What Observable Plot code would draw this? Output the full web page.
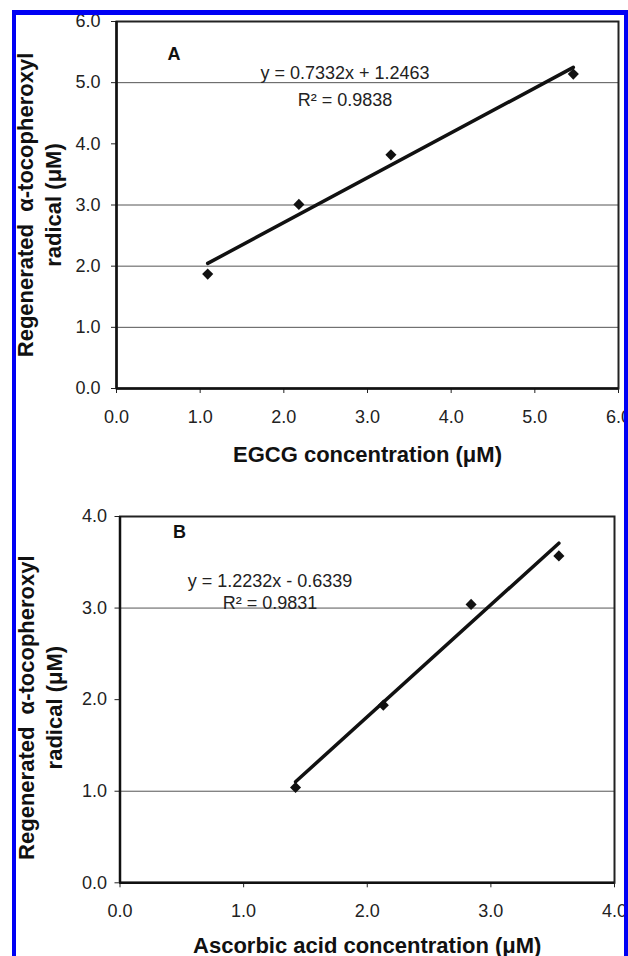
<!DOCTYPE html>
<html>
<head>
<meta charset="utf-8">
<script src="https://cdn.jsdelivr.net/npm/d3@7"></script>
<script src="https://cdn.jsdelivr.net/npm/@observablehq/plot@0.6"></script>
<style>
  html, body { margin: 0; padding: 0; background: #fff; }
  #wrap { position: relative; width: 628px; height: 956px; overflow: hidden; background: #fff; font-family: "Liberation Sans", Arial, sans-serif; }
  #wrap svg { position: absolute; left: 0; }
  #border { position: absolute; left: 12px; top: 10px; width: 616px; height: 980px; box-sizing: border-box;
            border-left: 4px solid #0000f4; border-top: 5px solid #0000f4; border-right: 4px solid #0000f4; z-index: 5; }
</style>
</head>
<body>
<div id="wrap"><div id="border"></div></div>
<script>
// ---- Panel A: EGCG ----
const egcgX = [1.09, 2.18, 3.28, 5.46];
const egcgY = [1.87, 3.01, 3.82, 5.14];
const slopeA = 0.7332, interceptA = 1.2463, r2A = "0.9838";
const xTicksA = [0, 1, 2, 3, 4, 5, 6];
const yTicksA = [0, 1, 2, 3, 4, 5, 6];
const gridA = [1, 2, 3, 5];

// ---- Panel B: Ascorbic acid ----
const ascX = [1.42, 2.13, 2.84, 3.55];
const ascY = [1.04, 1.94, 3.04, 3.57];
const slopeB = 1.2232, interceptB = -0.6339, r2B = "0.9831";
const xTicksB = [0, 1, 2, 3, 4];
const yTicksB = [0, 1, 2, 3, 4];
const gridB = [1, 3];

const yTitle = "Regenerated\u00a0\u00a0α-tocopheroxyl\nradical (μM)";

function fmtNum(v) { return Math.abs(v).toFixed(4); }

function panel(cfg) {
  const pts = cfg.xs.map((x, i) => ({x, y: cfg.ys[i]}));
  const ext = d3.extent(cfg.xs);
  const fit = ext.map(x => ({x, y: cfg.slope * x + cfg.intercept}));
  const eq = `y = ${fmtNum(cfg.slope)}x ${cfg.intercept < 0 ? "-" : "+"} ${fmtNum(cfg.intercept)}\nR² = ${cfg.r2}`;
  return Plot.plot({
    width: 628,
    height: cfg.height,
    marginLeft: cfg.ml, marginRight: cfg.mr, marginTop: cfg.mt, marginBottom: cfg.mb,
    style: {fontFamily: "'Liberation Sans', Arial, sans-serif", fontSize: "18px", color: "#222", background: "transparent", overflow: "visible"},
    x: {domain: cfg.xDomain, ticks: cfg.xTicks, tickFormat: d3.format(".1f"), tickSize: 5, tickPadding: cfg.xPad, label: null},
    y: {domain: cfg.yDomain, ticks: cfg.yTicks, tickFormat: d3.format(".1f"), tickSize: 5, tickPadding: cfg.yPad, label: null},
    marks: [
      Plot.ruleY(cfg.grid, {stroke: "#555", strokeWidth: 1}),
      Plot.frame({stroke: "#222", strokeWidth: 2}),
      Plot.ruleX([cfg.xDomain[0]], {stroke: "#111", strokeWidth: 2.5}),
      Plot.ruleY([cfg.yDomain[0]], {stroke: "#111", strokeWidth: 2.5}),
      Plot.line(fit, {x: "x", y: "y", stroke: "#111", strokeWidth: 3.5}),
      Plot.dot(pts, {x: "x", y: "y", symbol: "diamond2", r: 5, fill: "#111", stroke: "none"}),
      Plot.text([cfg.letter], {frameAnchor: "top-left", dx: cfg.letterDx, dy: cfg.letterDy, textAnchor: "start", lineAnchor: "top", fontWeight: "bold", fontSize: 18, fill: "#111"}),
      Plot.text([eq], {frameAnchor: "top-left", dx: cfg.eqDx, dy: cfg.eqDy, textAnchor: "middle", lineAnchor: "top", lineHeight: cfg.eqLH, fontSize: 18, fill: "#222"}),
      Plot.text([yTitle], {frameAnchor: "left", dx: cfg.ytDx, dy: cfg.ytDy, rotate: -90, textAnchor: "middle", lineAnchor: "middle", lineHeight: 1.27, fontWeight: "bold", fontSize: 22, fill: "#111"}),
      Plot.text([cfg.xTitle], {frameAnchor: "bottom", dy: cfg.xtDy, textAnchor: "middle", lineAnchor: "middle", fontWeight: "bold", fontSize: 22, fill: "#111"})
    ]
  });
}

const wrap = document.getElementById("wrap");

const a = panel({
  xs: egcgX, ys: egcgY, slope: slopeA, intercept: interceptA, r2: r2A,
  xDomain: [0, 6], yDomain: [0, 6], xTicks: xTicksA, yTicks: yTicksA, grid: gridA,
  height: 480, ml: 116, mr: 10, mt: 21, mb: 92, xPad: 17, yPad: 11,
  letter: "A", letterDx: 51, letterDy: 26,
  eqDx: 228.5, eqDy: 39, eqLH: 1.47,
  ytDx: -78, ytDy: 0,
  xTitle: "EGCG concentration (μM)", xtDy: 66.5
});
a.style.top = "0px";
wrap.appendChild(a);

const b = panel({
  xs: ascX, ys: ascY, slope: slopeB, intercept: interceptB, r2: r2B,
  xDomain: [0, 4], yDomain: [0, 4], xTicks: xTicksB, yTicks: yTicksB, grid: gridB,
  height: 476, ml: 119.5, mr: 14, mt: 36, mb: 73.7, xPad: 16, yPad: 8,
  letter: "B", letterDx: 53, letterDy: 9,
  eqDx: 150, eqDy: 55, eqLH: 1.22,
  ytDx: -81, ytDy: 8,
  xTitle: "Ascorbic acid concentration (μM)", xtDy: 63
});
b.style.top = "480px";
wrap.appendChild(b);
</script>
</body>
</html>
